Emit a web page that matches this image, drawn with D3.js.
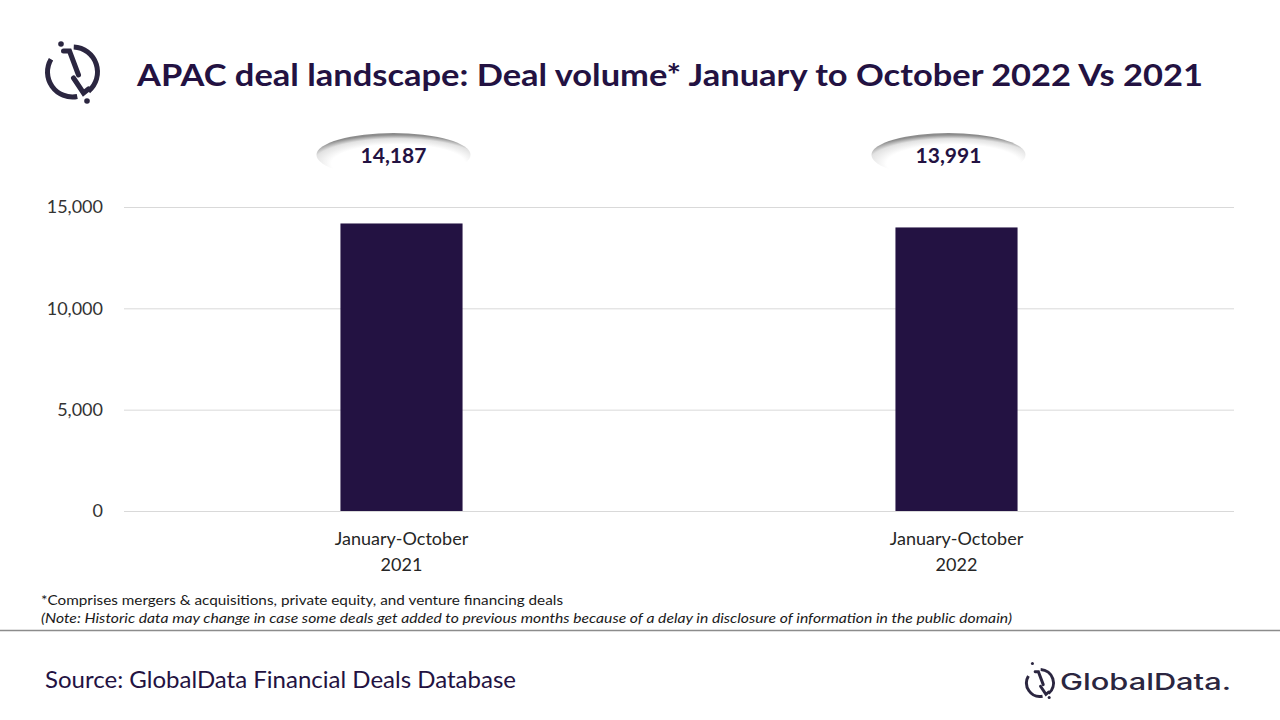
<!DOCTYPE html>
<html>
<head>
<meta charset="utf-8">
<script src="https://cdn.jsdelivr.net/npm/d3@7"></script>
<style>
  html, body { margin: 0; padding: 0; background: #fff; }
  svg { display: block; font-family: Lato, "Open Sans", sans-serif; }
</style>
</head>
<body>
<div id="chart"></div>
<script>
// Chart data
const categories = ["January-October 2021", "January-October 2022"];
const dealVolume = [14187, 13991];
const yTicks = [0, 5000, 10000, 15000];

const titleText = "APAC deal landscape: Deal volume* January to October 2022 Vs 2021";
const noteLine1 = "*Comprises mergers & acquisitions, private equity, and venture financing deals";
const noteLine2 = "(Note: Historic data may change in case some deals get added to previous months because of a delay in disclosure of information in the public domain)";
const sourceText = "Source: GlobalData Financial Deals Database";

// Layout constants
const w = 1280;
const h = 720;
const plot = { left: 124, right: 1234, top: 207, bottom: 511 };
const purple = "#231242";
const logoColor = "#2b2640";

const svg = d3.select("#chart")
              .append("svg")
              .attr("width", w)
              .attr("height", h);

// gradient for the value bubbles
const defs = svg.append("defs");
const grad = defs.append("radialGradient")
                 .attr("id", "bubble")
                 .attr("cx", "52%").attr("cy", "66%")
                 .attr("fx", "56%").attr("fy", "78%")
                 .attr("r", "62%");
grad.append("stop").attr("offset", "0%").attr("stop-color", "#ffffff");
grad.append("stop").attr("offset", "70%").attr("stop-color", "#ffffff");
grad.append("stop").attr("offset", "88%").attr("stop-color", "#e2e2e2");
grad.append("stop").attr("offset", "100%").attr("stop-color", "#8c8c8c");

// scales
const xScale = d3.scaleBand()
                 .domain(categories)
                 .range([plot.left, plot.right])
                 .paddingInner(0.78)
                 .paddingOuter(0.39);
const yScale = d3.scaleLinear()
                 .domain([0, 15000])
                 .range([plot.bottom, plot.top]);

// gridlines + y labels
const yAxis = svg.append("g")
                 .attr("transform", `translate(${plot.left},0)`)
                 .call(d3.axisLeft(yScale)
                         .tickValues(yTicks)
                         .tickSize(-(plot.right - plot.left))
                         .tickPadding(21)
                         .tickFormat(d3.format(",")));
yAxis.select(".domain").remove();
yAxis.selectAll(".tick line").attr("stroke", "#d9d9d9").attr("stroke-width", 1);
yAxis.selectAll(".tick text")
     .attr("fill", "#333333")
     .style("font-size", "18px")
     .style("font-family", "Lato, sans-serif");

// bars
svg.selectAll("rect.bar")
   .data(dealVolume)
   .enter()
   .append("rect")
   .attr("class", "bar")
   .attr("x", (d, i) => xScale(categories[i]))
   .attr("y", d => yScale(d))
   .attr("width", xScale.bandwidth())
   .attr("height", d => yScale(0) - yScale(d))
   .attr("fill", purple);

// category labels (two lines)
const catLabels = svg.selectAll("text.cat")
   .data(categories)
   .enter()
   .append("text")
   .attr("class", "cat")
   .attr("text-anchor", "middle")
   .attr("fill", "#262626")
   .style("font-size", "18px");
catLabels.append("tspan")
   .attr("x", d => xScale(d) + xScale.bandwidth() / 2)
   .attr("y", 545)
   .text(d => d.split(" ")[0]);
catLabels.append("tspan")
   .attr("x", d => xScale(d) + xScale.bandwidth() / 2)
   .attr("y", 571)
   .text(d => d.split(" ")[1]);

// value bubbles above the bars
const bubbles = svg.selectAll("g.bubble")
   .data(dealVolume)
   .enter()
   .append("g")
   .attr("class", "bubble")
   .attr("transform", (d, i) => `translate(${xScale(categories[i]) + xScale.bandwidth() / 2 - 8},155)`);
bubbles.append("ellipse")
   .attr("rx", 77)
   .attr("ry", 22)
   .attr("fill", "url(#bubble)");
bubbles.append("text")
   .attr("text-anchor", "middle")
   .attr("y", 8)
   .attr("fill", purple)
   .style("font-size", "21px")
   .style("font-weight", "bold")
   .text(d => d3.format(",")(d));

// title
svg.append("text")
   .attr("x", 137)
   .attr("y", 86)
   .attr("fill", purple)
   .attr("textLength", 1066)
   .attr("lengthAdjust", "spacingAndGlyphs")
   .style("font-size", "31px")
   .style("font-weight", "bold")
   .text(titleText);

// draws the ring-and-slash logo mark into a group
const drawMark = (g, dots) => {
    g.append("path")
     .attr("d", d3.arc()({ innerRadius: 25, outerRadius: 25, startAngle: 0.05, endAngle: 2.45 }));
    g.append("path")
     .attr("d", d3.arc()({ innerRadius: 25, outerRadius: 25, startAngle: 2.95, endAngle: 5.25 }));
    g.append("path").attr("d", "M-9,-21 L-3,-21 L6,3");
    g.append("path").attr("d", "M1,6 L11,21 L16,17");
    g.selectAll("circle")
     .data(dots)
     .enter()
     .append("circle")
     .attr("cx", d => d[0])
     .attr("cy", d => d[1])
     .attr("r", 2.8)
     .attr("fill", logoColor)
     .attr("stroke", "none");
};

// top-left logo
const logo = svg.append("g")
                .attr("transform", "translate(72.5,72)")
                .attr("fill", "none")
                .attr("stroke", logoColor)
                .attr("stroke-width", 5)
                .attr("stroke-linecap", "round");
drawMark(logo, [[-11.5, -28], [14.5, 29]]);

// footnotes
svg.append("text")
   .attr("x", 41).attr("y", 605)
   .attr("fill", "#1a1a1a")
   .attr("textLength", 522)
   .attr("lengthAdjust", "spacingAndGlyphs")
   .style("font-size", "14px")
   .text(noteLine1);
svg.append("text")
   .attr("x", 41).attr("y", 623)
   .attr("fill", "#1a1a1a")
   .attr("textLength", 971)
   .attr("lengthAdjust", "spacingAndGlyphs")
   .style("font-size", "14px")
   .style("font-style", "italic")
   .text(noteLine2);

svg.append("line")
   .attr("x1", 0).attr("x2", w)
   .attr("y1", 630.5).attr("y2", 630.5)
   .attr("stroke", "#8c8c8c")
   .attr("stroke-width", 1.5);

// source
svg.append("text")
   .attr("x", 45).attr("y", 688)
   .attr("fill", purple)
   .attr("textLength", 471)
   .attr("lengthAdjust", "spacingAndGlyphs")
   .style("font-size", "24px")
   .text(sourceText);

// bottom-right GlobalData logo
const brand = svg.append("g")
                 .attr("transform", "translate(1040,683) scale(0.54)")
                 .attr("fill", "none")
                 .attr("stroke", logoColor)
                 .attr("stroke-width", 5.5)
                 .attr("stroke-linecap", "round");
drawMark(brand, [[-14, -36], [17, 27]]);

svg.append("text")
   .attr("x", 1060).attr("y", 690)
   .attr("fill", logoColor)
   .attr("textLength", 171)
   .attr("lengthAdjust", "spacingAndGlyphs")
   .style("font-family", "Inter, sans-serif")
   .style("font-size", "23px")
   .style("font-weight", 500)
   .text("GlobalData.");
</script>
</body>
</html>
